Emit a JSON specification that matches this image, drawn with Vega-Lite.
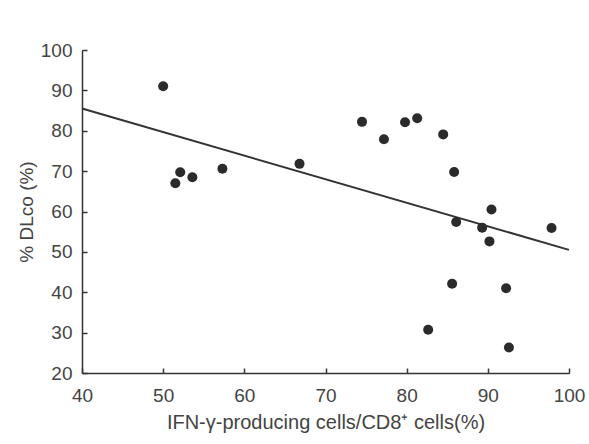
{
  "$schema": "https://vega.github.io/schema/vega-lite/v6.json",
  "width": 487,
  "height": 323,
  "autosize": {"type": "none"},
  "padding": {"left": 82, "top": 50, "right": 20, "bottom": 71},
  "background": "white",
  "config": {
    "view": {"stroke": null},
    "font": "Liberation Sans",
    "axis": {
      "grid": false,
      "domainColor": "#333",
      "domainWidth": 1.5,
      "tickColor": "#333",
      "tickWidth": 1.5,
      "tickSize": -5,
      "labelFlush": false,
      "labelOverlap": false,
      "labelColor": "#444",
      "labelFont": "Liberation Sans",
      "labelFontSize": 19,
      "titleColor": "#444",
      "titleFont": "Liberation Sans",
      "titleFontSize": 19,
      "titleFontWeight": "normal"
    }
  },
  "datasets": {
    "points": [
      {"x": 50.0, "y": 91.0},
      {"x": 52.1, "y": 69.7},
      {"x": 51.5, "y": 67.0},
      {"x": 53.6, "y": 68.5},
      {"x": 57.3, "y": 70.6},
      {"x": 66.8, "y": 71.8},
      {"x": 74.5, "y": 82.2},
      {"x": 77.2, "y": 77.9},
      {"x": 79.8, "y": 82.1},
      {"x": 81.3, "y": 83.1},
      {"x": 84.5, "y": 79.1},
      {"x": 85.85, "y": 69.8},
      {"x": 90.45, "y": 60.5},
      {"x": 86.1, "y": 57.4},
      {"x": 89.3, "y": 56.0},
      {"x": 90.2, "y": 52.6},
      {"x": 97.85, "y": 55.9},
      {"x": 85.6, "y": 42.1},
      {"x": 92.25, "y": 41.0},
      {"x": 82.65, "y": 30.7},
      {"x": 92.6, "y": 26.3}
    ],
    "fit": [
      {"x": 40, "y": 85.5},
      {"x": 100, "y": 50.5}
    ]
  },
  "layer": [
    {
      "data": {"name": "fit"},
      "mark": {"type": "line", "color": "#333", "strokeWidth": 2},
      "encoding": {
        "x": {"field": "x", "type": "quantitative", "scale": {"domain": [40, 100], "nice": false}, "axis": {"values": [40, 50, 60, 70, 80, 90, 100], "title": "IFN-γ-producing cells/CD8⁺ cells(%)", "titleFontSize": 20, "labelPadding": 18, "titlePadding": 7}},
        "y": {"field": "y", "type": "quantitative", "scale": {"domain": [20, 100], "nice": false}, "axis": {"values": [20, 30, 40, 50, 60, 70, 80, 90, 100], "title": "% DLco (%)", "labelPadding": 15, "titlePadding": 4}}
      }
    },
    {
      "data": {"name": "points"},
      "mark": {"type": "circle", "color": "#2b2b2b", "opacity": 1, "size": 100},
      "encoding": {
        "x": {"field": "x", "type": "quantitative"},
        "y": {"field": "y", "type": "quantitative"}
      }
    }
  ]
}
